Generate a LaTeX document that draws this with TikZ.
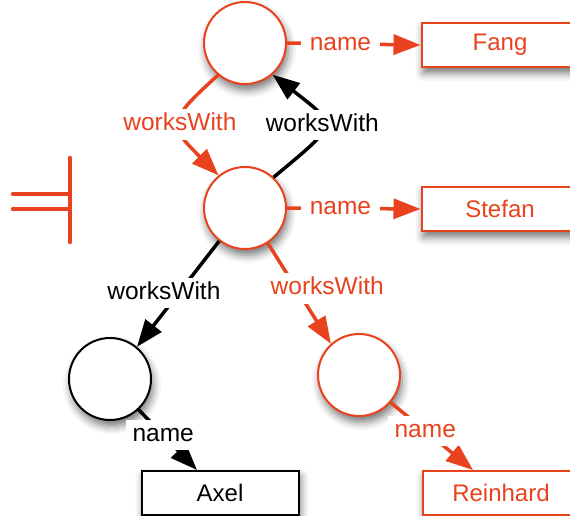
\documentclass[tikz,border=0pt]{standalone}
\usepackage{fontspec}
\setmainfont{Liberation Sans}
\usetikzlibrary{arrows.meta,shadows.blur}
\definecolor{rdfred}{RGB}{232,66,30}
\tikzset{
  res/.style={circle,draw,fill=white,line width=2pt,minimum size=82pt,inner sep=0pt,
    blur shadow={shadow xshift=2pt,shadow yshift=-6pt,shadow blur radius=8pt,shadow opacity=55}},
  lit/.style={rectangle,draw,fill=white,line width=2pt,minimum width=157pt,minimum height=44pt,
    inner sep=0pt,font=\fontsize{24}{28}\selectfont,
    blur shadow={shadow xshift=2pt,shadow yshift=-6pt,shadow blur radius=8pt,shadow opacity=55}},
  edge/.style={line width=3.5pt,-{Triangle[length=27pt,width=20pt]}},
  lbl/.style={fill=white,inner xsep=9pt,inner ysep=4pt,text height=17.5pt,text depth=5pt,
    font=\fontsize{24.5}{28}\selectfont},
  hln/.style={draw=rdfred,text=rdfred},
  hl/.style={rdfred}
}
\begin{document}
\begin{tikzpicture}[x=1pt,y=1pt]
\useasboundingbox (0,0) rectangle (570,-516);
\clip (0,0) rectangle (570,-516);

% resources
\node[res,hln] (top) at (245,-43) {};
\node[res,hln] (mid) at (245,-208) {};
\node[res] (bl) at (110,-379) {};
\node[res,hln] (br) at (359,-375) {};

% literals
\node[lit,hln] (fang) at (500,-45) {Fang};
\node[lit,hln] (stefan) at (500,-209) {Stefan};
\node[lit] (axel) at (220,-493) {Axel};
\node[lit,hln] (reinhard) at (501,-493) {Reinhard};

% entailment sign
\draw[rdfred,line width=4.5pt,line cap=round] (13,-194) -- (70,-194) (13,-209) -- (70,-209)
  (70,-158) -- (70,-242);

% name properties
\draw[edge,hl] (top.east) -- node[lbl,pos=0.4] {name} (fang.west);
\draw[edge,hl] (mid.east) -- node[lbl,pos=0.4] {name} (stefan.west);
\draw[edge] (bl.-47) -- node[lbl,pos=0.42,inner xsep=7pt] {name} ([xshift=-23pt]axel.north);
\draw[edge,hl] (br.-41) -- node[lbl,pos=0.42,inner xsep=7pt] {name} ([xshift=-28pt]reinhard.north);

% worksWith properties
\draw[edge,hl] (top.230) to[out=222,in=135,looseness=1.8] node[lbl] {worksWith} (mid.129);
\draw[edge] (mid.47) to[out=40,in=-38,looseness=2.1] node[lbl] {worksWith} (top.-49);
\draw[edge] (mid.232) -- node[lbl,pos=0.49,xshift=-15pt] {worksWith} (bl.50);
\draw[edge,hl] (mid.-57) -- node[lbl,pos=0.45,xshift=31pt] {worksWith} (br.132);
\end{tikzpicture}
\end{document}
